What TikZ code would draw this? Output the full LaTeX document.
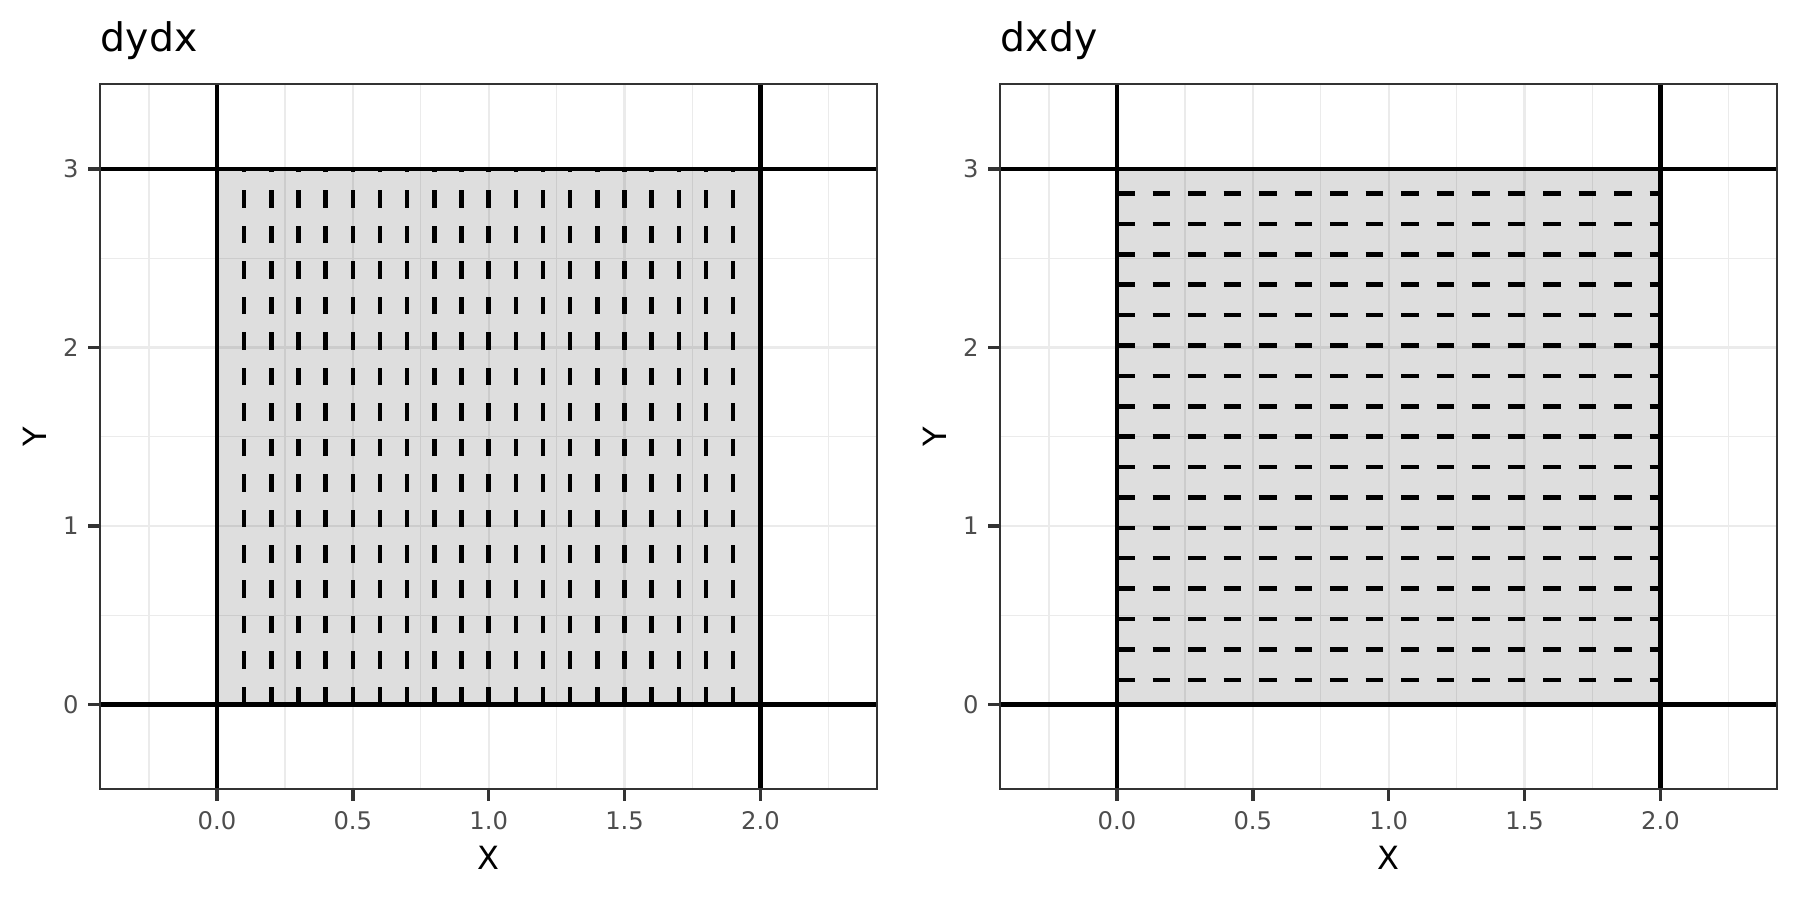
\documentclass[tikz,border=0pt]{standalone}
\usepackage{fontspec}
\setmainfont{DejaVu Sans}

\definecolor{gridGrey}{HTML}{EBEBEB}
\definecolor{frameGrey}{HTML}{333333}
\definecolor{tickText}{HTML}{4D4D4D}

\begin{document}
\begin{tikzpicture}
  % Styling
  \tikzset{
    minorGrid/.style={gridGrey, line width=0.012cm},
    majorGrid/.style={gridGrey, line width=0.024cm},
    region/.style={fill=black, fill opacity=0.13},
    edgeLine/.style={black, line width=0.042cm},
    stroke/.style={black, line width=0.045cm, dash pattern=on 0.175cm off 0.18cm},
    frame/.style={frameGrey, line width=0.018cm},
    tickMark/.style={frameGrey, line width=0.035cm},
    tickLabel/.style={font=\fontsize{6.9}{8}\selectfont, text=tickText, inner sep=0pt},
    axisTitle/.style={font=\fontsize{9.1}{11}\selectfont, black, inner sep=0pt},
    panelTitle/.style={font=\fontsize{11.2}{13}\selectfont, black, inner sep=0pt}
  }

  \useasboundingbox (0,0) rectangle (18,9);

  % ===== dydx =====
  \begin{scope}[shift={(2.17,1.955)}, x=2.717cm, y=1.785cm]
    % Grid
    \foreach \gx in {-0.25,0.25,0.75,1.25,1.75,2.25}
      \draw[minorGrid] (\gx,-0.475) -- (\gx,3.475);
    \foreach \gy in {0.5,1.5,2.5}
      \draw[minorGrid] (-0.43,\gy) -- (2.43,\gy);
    \foreach \gx in {0,0.5,1,1.5,2}
      \draw[majorGrid] (\gx,-0.475) -- (\gx,3.475);
    \foreach \gy in {0,1,2,3}
      \draw[majorGrid] (-0.43,\gy) -- (2.43,\gy);

    % Shaded region and its edges
    \fill[region] (0,0) rectangle (2,3);
    \draw[edgeLine] (0,-0.475) -- (0,3.475);
    \draw[edgeLine] (2,-0.475) -- (2,3.475);
    \draw[edgeLine] (-0.43,0) -- (2.43,0);
    \draw[edgeLine] (-0.43,3) -- (2.43,3);

    % Strips in y
    \foreach \k in {1,...,19}
      \draw[stroke] (\k/10,0) -- (\k/10,3);

    % Frame, ticks, labels
    \draw[frame] (-0.43,-0.475) rectangle (2.43,3.475);
    \foreach \tx/\lab [count=\n] in {0/0.0,0.5/0.5,1/1.0,1.5/1.5,2/2.0} {
      \draw[tickMark] (\tx,-0.475) -- ++(0,-0.12cm);
      \node[tickLabel, anchor=base] (dydxX\n) at ([yshift=-0.407cm]\tx,-0.475) {\lab};
    }
    \foreach \ty in {0,1,2,3} {
      \draw[tickMark] (-0.43,\ty) -- ++(-0.125cm,0);
      \node[tickLabel, anchor=east] (dydxY\ty) at ([xshift=-0.21cm]-0.43,\ty) {\ty};
    }
    \node[axisTitle, anchor=base] (dydxXTitle) at ([yshift=-0.807cm]1,-0.475) {X};
    \node[axisTitle, rotate=90] (dydxYTitle) at ([xshift=-0.655cm]-0.43,1.5) {Y};
    \node[panelTitle, anchor=base west] (dydxTitle) at ([yshift=0.326cm]-0.43,3.475) {dydx};
  \end{scope}

  % ===== dxdy =====
  \begin{scope}[shift={(11.17,1.955)}, x=2.717cm, y=1.785cm]
    % Grid
    \foreach \gx in {-0.25,0.25,0.75,1.25,1.75,2.25}
      \draw[minorGrid] (\gx,-0.475) -- (\gx,3.475);
    \foreach \gy in {0.5,1.5,2.5}
      \draw[minorGrid] (-0.43,\gy) -- (2.43,\gy);
    \foreach \gx in {0,0.5,1,1.5,2}
      \draw[majorGrid] (\gx,-0.475) -- (\gx,3.475);
    \foreach \gy in {0,1,2,3}
      \draw[majorGrid] (-0.43,\gy) -- (2.43,\gy);

    % Shaded region and its edges
    \fill[region] (0,0) rectangle (2,3);
    \draw[edgeLine] (0,-0.475) -- (0,3.475);
    \draw[edgeLine] (2,-0.475) -- (2,3.475);
    \draw[edgeLine] (-0.43,0) -- (2.43,0);
    \draw[edgeLine] (-0.43,3) -- (2.43,3);

    % Strips in x
    \foreach \k in {0,...,16}
      \draw[stroke] (0,{0.1385+0.17025*\k}) -- (2,{0.1385+0.17025*\k});

    % Frame, ticks, labels
    \draw[frame] (-0.43,-0.475) rectangle (2.43,3.475);
    \foreach \tx/\lab [count=\n] in {0/0.0,0.5/0.5,1/1.0,1.5/1.5,2/2.0} {
      \draw[tickMark] (\tx,-0.475) -- ++(0,-0.12cm);
      \node[tickLabel, anchor=base] (dxdyX\n) at ([yshift=-0.407cm]\tx,-0.475) {\lab};
    }
    \foreach \ty in {0,1,2,3} {
      \draw[tickMark] (-0.43,\ty) -- ++(-0.125cm,0);
      \node[tickLabel, anchor=east] (dxdyY\ty) at ([xshift=-0.21cm]-0.43,\ty) {\ty};
    }
    \node[axisTitle, anchor=base] (dxdyXTitle) at ([yshift=-0.807cm]1,-0.475) {X};
    \node[axisTitle, rotate=90] (dxdyYTitle) at ([xshift=-0.655cm]-0.43,1.5) {Y};
    \node[panelTitle, anchor=base west] (dxdyTitle) at ([yshift=0.326cm]-0.43,3.475) {dxdy};
  \end{scope}
\end{tikzpicture}
\end{document}
